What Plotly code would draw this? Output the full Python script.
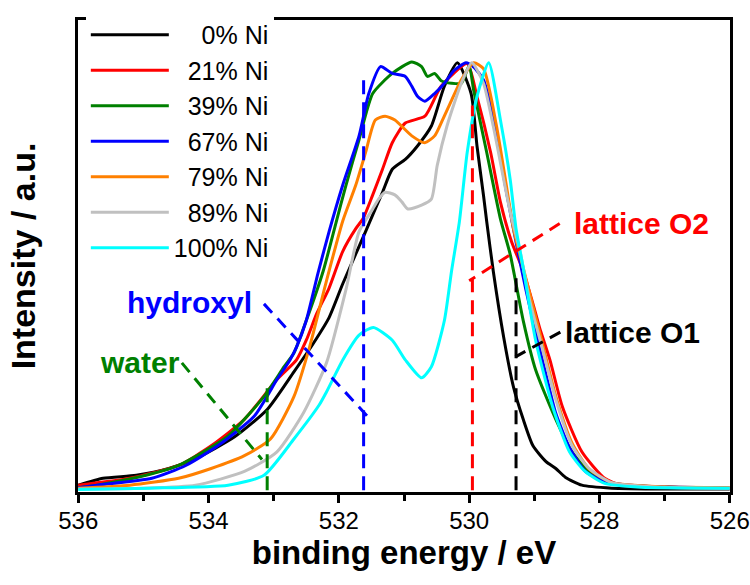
import plotly.graph_objects as go

# ---------------- data ----------------
series_names = ["\u00a0\u00a0\u00a0\u00a00% Ni", "\u00a0\u00a021% Ni", "\u00a0\u00a039% Ni",
                "\u00a0\u00a067% Ni", "\u00a0\u00a079% Ni", "\u00a0\u00a089% Ni", "100% Ni"]
series_colors = ["#000000", "#FF0000", "#008000", "#0000FF", "#FF8000", "#C0C0C0", "#00FFFF"]

e_ni0 = [536.00, 535.62, 535.11, 534.61, 534.20, 533.60, 533.10, 532.69, 532.39, 532.15, 531.94,
         531.59, 531.48, 531.33, 531.18, 530.98, 530.79, 530.58, 530.38, 530.18, 529.97, 529.88,
         529.78, 529.73, 529.63, 529.47, 529.32, 529.17, 529.02, 528.82, 528.67, 528.52, 528.27,
         527.81, 526.91, 526.00]
i_ni0 = [0.012, 0.028, 0.035, 0.051, 0.074, 0.125, 0.189, 0.277, 0.344, 0.404, 0.483,
         0.605, 0.644, 0.697, 0.751, 0.774, 0.806, 0.852, 0.945, 1.000, 0.928, 0.806,
         0.690, 0.628, 0.513, 0.358, 0.242, 0.166, 0.104, 0.067, 0.051, 0.030, 0.012,
         0.005, 0.003, 0.003]

e_ni21 = [536.00, 535.21, 534.46, 533.96, 533.45, 532.95, 532.65, 532.50, 532.34, 532.15, 531.94,
          531.74, 531.63, 531.48, 531.33, 531.18, 530.98, 530.68, 530.43, 530.03, 529.88, 529.67,
          529.52, 529.35, 529.17, 529.02, 528.92, 528.76, 528.57, 528.27, 527.92, 527.66, 526.91,
          526.00]
i_ni21 = [0.012, 0.028, 0.058, 0.104, 0.166, 0.259, 0.305, 0.351, 0.413, 0.473, 0.559,
          0.612, 0.635, 0.691, 0.751, 0.813, 0.859, 0.875, 0.945, 0.998, 0.921, 0.790,
          0.674, 0.582, 0.513, 0.436, 0.381, 0.305, 0.196, 0.090, 0.028, 0.012, 0.007,
          0.005]

e_ni39 = [536.00, 535.71, 534.96, 534.46, 533.70, 533.15, 532.84, 532.69, 532.50, 532.24, 532.04,
          531.89, 531.69, 531.48, 531.18, 530.88, 530.73, 530.64, 530.53, 530.43, 530.27, 530.12,
          530.00, 529.93, 529.73, 529.52, 529.37, 529.17, 528.98, 528.67, 528.42, 528.16, 527.81,
          526.91, 526.00]
i_ni39 = [0.006, 0.012, 0.035, 0.058, 0.127, 0.219, 0.289, 0.321, 0.397, 0.513, 0.628,
          0.714, 0.820, 0.928, 0.975, 1.002, 0.991, 0.968, 0.975, 0.958, 0.952, 0.952,
          0.993, 0.935, 0.790, 0.635, 0.552, 0.397, 0.282, 0.166, 0.090, 0.044, 0.016,
          0.007, 0.005]

e_ni67 = [536.00, 535.71, 534.87, 534.35, 533.86, 533.30, 532.95, 532.75, 532.65, 532.50, 532.32,
          532.15, 531.94, 531.69, 531.54, 531.36, 531.18, 530.98, 530.88, 530.79, 530.68, 530.53,
          530.38, 530.23, 530.05, 529.93, 529.78, 529.67, 529.58, 529.43, 529.28, 529.13, 528.98,
          528.82, 528.67, 528.46, 528.22, 527.92, 527.36, 526.00]
i_ni67 = [0.006, 0.012, 0.028, 0.058, 0.104, 0.173, 0.259, 0.305, 0.335, 0.397, 0.508,
          0.605, 0.714, 0.829, 0.928, 0.991, 0.975, 0.968, 0.945, 0.921, 0.910, 0.928,
          0.952, 0.982, 1.000, 0.990, 0.960, 0.900, 0.830, 0.700, 0.580, 0.470, 0.370,
          0.270, 0.180, 0.100, 0.045, 0.020, 0.010, 0.005]

e_ni79 = [536.00, 535.21, 534.46, 533.96, 533.45, 533.05, 532.69, 532.45, 532.19, 531.94, 531.74,
          531.59, 531.44, 531.29, 531.14, 530.88, 530.68, 530.53, 530.43, 530.27, 530.12, 529.93,
          529.78, 529.58, 529.43, 529.32, 529.17, 529.02, 528.87, 528.67, 528.42, 528.16, 527.81,
          527.00, 526.00]
i_ni79 = [0.005, 0.012, 0.028, 0.051, 0.081, 0.120, 0.219, 0.335, 0.490, 0.630, 0.714,
          0.790, 0.866, 0.875, 0.866, 0.829, 0.813, 0.829, 0.859, 0.912, 0.960, 1.000,
          0.986, 0.852, 0.714, 0.612, 0.520, 0.430, 0.340, 0.220, 0.110, 0.050, 0.018,
          0.008, 0.006]

e_ni89 = [536.00, 535.00, 534.20, 533.45, 532.95, 532.54, 532.19, 531.89, 531.69, 531.48, 531.39,
          531.29, 531.14, 531.03, 530.94, 530.73, 530.58, 530.49, 530.34, 530.12, 529.96, 529.78,
          529.63, 529.37, 529.22, 529.07, 528.87, 528.67, 528.42, 528.16, 527.81, 527.00, 526.00]
i_ni89 = [0.003, 0.005, 0.012, 0.044, 0.090, 0.182, 0.298, 0.470, 0.605, 0.658, 0.681,
          0.697, 0.691, 0.674, 0.658, 0.667, 0.681, 0.760, 0.852, 0.952, 1.000, 0.952,
          0.852, 0.651, 0.560, 0.443, 0.328, 0.212, 0.104, 0.051, 0.018, 0.007, 0.005]

e_ni100 = [536.00, 534.91, 533.70, 533.15, 532.69, 532.30, 532.19, 531.94, 531.69, 531.47, 531.18,
           530.98, 530.73, 530.58, 530.38, 530.27, 530.15, 530.03, 529.88, 529.70, 529.52, 529.37,
           529.28, 529.17, 528.98, 528.72, 528.46, 528.22, 527.92, 527.36, 526.00]
i_ni100 = [0.002, 0.005, 0.012, 0.035, 0.120, 0.200, 0.230, 0.305, 0.363, 0.381, 0.351,
           0.305, 0.263, 0.289, 0.397, 0.513, 0.628, 0.790, 0.921, 1.000, 0.866, 0.727,
           0.612, 0.520, 0.351, 0.196, 0.090, 0.044, 0.016, 0.007, 0.005]

energies = [e_ni0, e_ni21, e_ni39, e_ni67, e_ni79, e_ni89, e_ni100]
intensities = [i_ni0, i_ni21, i_ni39, i_ni67, i_ni79, i_ni89, i_ni100]

# reference component positions (binding energy, marker height)
comp_labels = ["water", "hydroxyl", "lattice O2", "lattice O1"]
comp_colors = ["#008000", "#0000FF", "#FF0000", "#000000"]
comp_energy = [533.1, 531.62, 529.95, 529.28]
comp_height = [0.25, 0.96, 0.90, 0.51]
# label anchor (energy, intensity) and leader start/end (energy, intensity)
label_e = [535.06, 534.29, 527.35, 527.50]
label_i = [0.30, 0.44, 0.625, 0.37]
leader_start_e = [534.41, 533.15, 528.61, 528.60]
leader_start_i = [0.298, 0.436, 0.624, 0.370]
leader_end_e = [533.18, 531.56, 530.00, 529.29]
leader_end_i = [0.072, 0.173, 0.490, 0.312]

x_ticks = [536, 534, 532, 530, 528, 526]

FONT = "Arial, 'Liberation Sans', sans-serif"

fig = go.Figure()

for name, col, e, inten in zip(series_names, series_colors, energies, intensities):
    fig.add_trace(go.Scatter(x=e, y=inten, mode="lines", name=name,
                             line=dict(color=col, width=3, shape="spline", smoothing=0.6)))

for lab, col, ce, ch, le, li, ls_e, ls_i, le_e, le_i in zip(
        comp_labels, comp_colors, comp_energy, comp_height, label_e, label_i,
        leader_start_e, leader_start_i, leader_end_e, leader_end_i):
    fig.add_trace(go.Scatter(x=[ce, ce], y=[0, ch], mode="lines", showlegend=False,
                             line=dict(color=col, width=3, dash="14px,8px"), hoverinfo="skip"))
    fig.add_trace(go.Scatter(x=[ls_e, le_e], y=[ls_i, le_i], mode="lines", showlegend=False,
                             line=dict(color=col, width=3, dash="12px,8px"), hoverinfo="skip"))
    fig.add_annotation(x=le, y=li, xref="x", yref="y", text=f"<b>{lab}</b>", showarrow=False,
                       font=dict(family=FONT, size=30, color=col), xanchor="center", yanchor="middle")

fig.update_layout(
    width=750, height=585,
    margin=dict(l=78, r=20, t=15, b=93),
    paper_bgcolor="white", plot_bgcolor="white",
    font=dict(family=FONT, color="black"),
    showlegend=True,
    legend=dict(x=0.012, y=1.017, xanchor="left", yanchor="top",
                bgcolor="white", borderwidth=0,
                font=dict(family=FONT, size=25, color="black"),
                tracegroupgap=0, itemwidth=78),
    xaxis=dict(range=[536.004, 525.996], tickvals=x_ticks, ticktext=[str(t) for t in x_ticks],
               ticks="outside", ticklen=8, tickwidth=2.5, tickcolor="black",
               minor=dict(dtick=1, tick0=535, ticks="outside", ticklen=6, tickwidth=2.5,
                          tickcolor="black"),
               showline=True, linewidth=3, linecolor="black", mirror=True,
               showgrid=False, zeroline=False, ticklabelstandoff=-3,
               ticklabeloverflow="allow", automargin=False,
               tickfont=dict(family=FONT, size=24, color="black"),
               title=dict(text="<b>binding energy / eV</b>", standoff=2,
                          font=dict(family=FONT, size=33, color="black"))),
    yaxis=dict(range=[-0.004, 1.1], showticklabels=False, ticks="",
               showline=True, linewidth=3, linecolor="black", mirror=True,
               showgrid=False, zeroline=False,
               title=dict(text="<b>Intensity / a.u.</b>", standoff=30,
                          font=dict(family=FONT, size=34, color="black"))),
)

fig.write_html("out.html")
